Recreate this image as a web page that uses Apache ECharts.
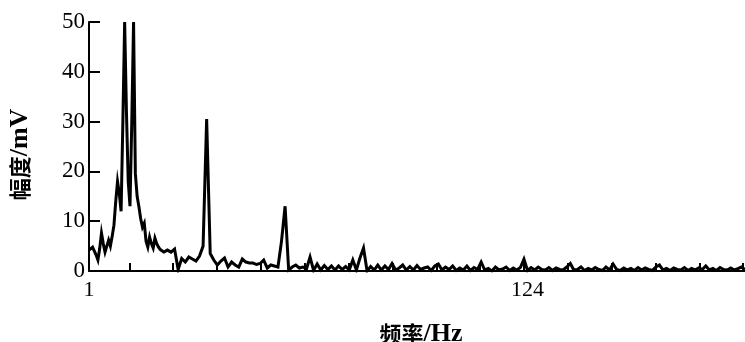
<!DOCTYPE html>
<html>
<head>
<meta charset="utf-8">
<script src="https://cdn.jsdelivr.net/npm/echarts@6/dist/echarts.min.js"></script>
<style>html,body{margin:0;padding:0;background:#fff}#c{width:745px;height:342px}</style>
</head>
<body>
<div id="c"></div>
<script>
// amplitude (mV), 0.5 Hz steps from 1 Hz to 20.5 Hz
const ampLowBand = [
  4.2, 4.5, 4.8, 4.0, 3.2, 2.2, 4.5, 7.6, 5.5, 3.8,
  5.0, 6.2, 5.0, 7.0, 9.2, 14, 18, 15.6, 12, 30,
  50, 32, 18, 13, 30, 50, 19.6, 15, 12.9, 10.5,
  8.8, 9.6, 6.0, 4.8, 6.8, 5.5, 4.6, 6.6, 5.5, 4.8
];
// amplitude (mV), 1 Hz steps from 21 Hz to 185 Hz
const ampHighBand = [
  4.3, 3.8, 4.2, 3.8, 4.4, 0.3, 2.5, 1.8, 2.8, 2.4,
  2.0, 3.0, 5.0, 30.5, 3.5, 2.2, 1.2, 2.0, 2.6, 0.8,
  1.8, 1.2, 0.8, 2.4, 1.8, 1.6, 1.6, 1.3, 1.5, 2.2,
  0.6, 1.2, 1.0, 0.8, 6, 13, 0.2, 0.8, 1.2, 0.6,
  0.8, 0.4, 2.8, 0.1, 1.4, 0.2, 1.1, 0.3, 1.0, 0.2,
  1.0, 0.3, 0.9, 0.2, 2.2, 0.2, 2.6, 4.6, 0.0, 0.9,
  0.2, 1.2, 0.2, 1.0, 0.3, 1.5, 0.2, 0.6, 1.2, 0.2,
  0.9, 0.2, 1.1, 0.3, 0.6, 0.8, 0.1, 1.0, 1.4, 0.2,
  0.8, 0.3, 1.0, 0.1, 0.6, 0.2, 1.0, 0.1, 0.7, 0.3,
  1.8, 0.2, 0.5, 0.0, 0.8, 0.2, 0.4, 0.8, 0.1, 0.6,
  0.2, 0.7, 2.4, 0.1, 0.7, 0.2, 0.8, 0.3, 0.2, 0.7,
  0.1, 0.6, 0.3, 0.2, 0.8, 1.5, 0.2, 0.3, 0.8, 0.1,
  0.5, 0.2, 0.7, 0.3, 0.1, 0.8, 0.2, 1.4, 0.3, 0.1,
  0.6, 0.2, 0.5, 0.1, 0.7, 0.2, 0.6, 0.3, 0.1, 0.8,
  1.2, 0.2, 0.5, 0.1, 0.6, 0.3, 0.2, 0.7, 0.1, 0.5,
  0.2, 0.6, 0.3, 1.0, 0.2, 0.5, 0.1, 0.7, 0.3, 0.2,
  0.6, 0.2, 0.5, 0.8, 0.3
];
const xLabelValues = [1, 124];
const xTickValues = [12.3, 24.6, 36.9, 49.2, 61.5, 73.8, 86.1, 98.4, 110.7, 123, 135.3, 147.6, 159.9, 172.2, 184.5];
const yTicks = [0, 10, 20, 30, 40, 50];

const seriesData = ampLowBand.map((v, i) => [1 + i * 0.5, v])
  .concat(ampHighBand.map((v, i) => [21 + i, v]));

const chart = echarts.init(document.getElementById('c'), null, {renderer: 'canvas'});
chart.setOption({
  animation: false,
  backgroundColor: '#fff',
  grid: {left: 89, right: 0, top: 22, bottom: 71, containLabel: false, outerBoundsMode: 'none'},
  xAxis: {
    type: 'value', min: 1, max: 185,
    name: '{c|频率}{l|/Hz}', nameLocation: 'middle', nameGap: 50,
    nameTextStyle: {
      padding: [0, 0, 0, 8],
      rich: {
        c: {fontFamily: 'Noto Sans CJK SC', fontWeight: 'bold', fontSize: 22, color: '#000'},
        l: {fontFamily: 'Liberation Serif', fontWeight: 'bold', fontSize: 26, color: '#000'}
      }
    },
    axisLine: {lineStyle: {color: '#000', width: 2}},
    axisTick: {show: true, inside: true, length: 8, lineStyle: {color: '#000', width: 2}, customValues: xTickValues},
    axisLabel: {customValues: xLabelValues, color: '#000', fontFamily: 'Liberation Serif', fontSize: 22, margin: 8},
    splitLine: {show: false}
  },
  yAxis: {
    type: 'value', min: 0, max: 50, interval: 10,
    name: '{c|幅度}{l|/mV}', nameLocation: 'middle', nameGap: 56,
    nameTextStyle: {
      padding: [0, 16, 0, 0],
      rich: {
        c: {fontFamily: 'Noto Sans CJK SC', fontWeight: 'bold', fontSize: 22, color: '#000'},
        l: {fontFamily: 'Liberation Serif', fontWeight: 'bold', fontSize: 26, color: '#000'}
      }
    },
    axisLine: {show: true, lineStyle: {color: '#000', width: 2}},
    axisTick: {show: true, inside: true, length: 11, lineStyle: {color: '#000', width: 2}},
    axisLabel: {color: '#000', fontFamily: 'Liberation Serif', fontSize: 23, margin: 4, padding: [5, 0, 0, 0],
      formatter: v => yTicks.includes(v) ? String(v) : ''},
    splitLine: {show: false}
  },
  series: [{
    type: 'line', data: seriesData, symbol: 'none',
    lineStyle: {color: '#000', width: 3, join: 'miter'},
    clip: true
  }]
});
</script>
</body>
</html>
